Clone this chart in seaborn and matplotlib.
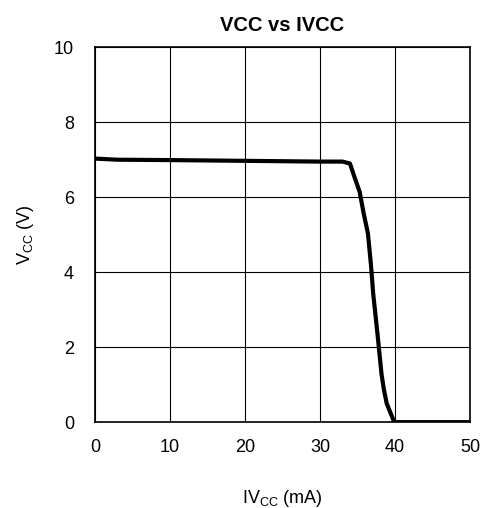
import matplotlib
matplotlib.use("Agg")
import matplotlib.pyplot as plt
import seaborn as sns
import pandas as pd

# curve
ivcc_ma = [0, 3, 10, 20, 30, 33, 34.0, 34.5, 35.3, 35.8, 36.4, 36.8, 37.1, 37.7, 38.2, 38.5, 38.9, 39.4, 39.9, 45, 50]
vcc_v = [7.03, 7.0, 6.99, 6.97, 6.95, 6.95, 6.9, 6.6, 6.14, 5.6, 5.03, 4.2, 3.43, 2.3, 1.3, 0.9, 0.5, 0.25, 0.0, 0.0, 0.0]

x_ticks = [0, 10, 20, 30, 40, 50]
y_ticks = [0, 2, 4, 6, 8, 10]

df = pd.DataFrame({'IVCC': ivcc_ma, 'VCC': vcc_v})

sns.set_theme(style='white')
plt.rcParams['font.family'] = ['Liberation Sans', 'DejaVu Sans']
plt.rcParams['mathtext.fontset'] = 'custom'
plt.rcParams['mathtext.rm'] = 'Liberation Sans'
plt.rcParams['text.color'] = 'black'
plt.rcParams['axes.labelcolor'] = 'black'

fig = plt.figure(figsize=(4.84, 5.08), dpi=100)
ax = fig.add_axes([0.196, 0.169, 0.775, 0.738])

sns.lineplot(data=df, x='IVCC', y='VCC', ax=ax, color='black', linewidth=3, sort=False)

ax.set_xlim(0, 50)
ax.set_ylim(0, 10)
ax.set_xticks(x_ticks)
ax.set_yticks(y_ticks)
ax.grid(True, color='black', linewidth=0.8)
for s in ax.spines.values():
    s.set_color('black')
    s.set_linewidth(1.2)
ax.tick_params(axis='x', length=0, labelsize=13, colors='black', pad=12)
ax.tick_params(axis='y', length=0, labelsize=13, colors='black', pad=15)

ax.set_title('VCC vs IVCC', fontsize=14.5, fontweight='bold', pad=12, color='black')
ax.set_xlabel(r'IV$_\mathregular{CC}$ (mA)', fontsize=13, labelpad=23, color='black')
ax.set_ylabel(r'V$_\mathregular{CC}$ (V)', fontsize=13, labelpad=13, color='black')

fig.savefig('out.png', dpi=100)
